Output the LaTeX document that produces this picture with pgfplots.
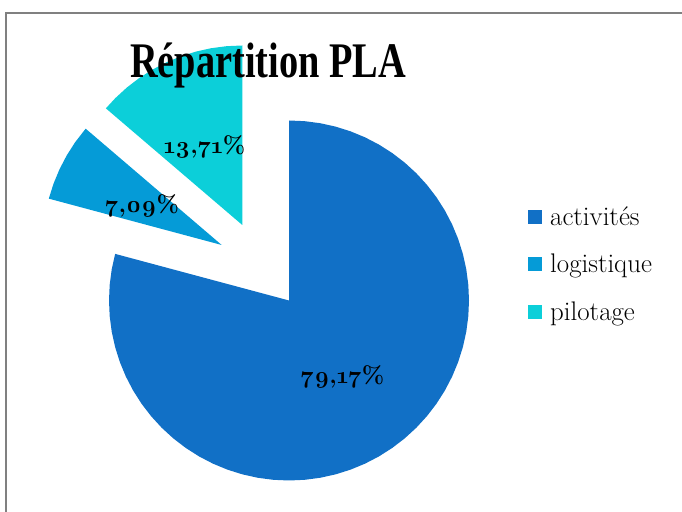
\documentclass[border=0pt]{standalone}
\usepackage{fontspec}
\setmainfont{Latin Modern Roman}
\newfontfamily\osf{Latin Modern Roman}[Numbers=OldStyle]
\newfontfamily\titlefont{Liberation Serif}
\usepackage{pgfplots}
\usepackage{pgfplotstable}
\pgfplotsset{compat=1.18}

\definecolor{activ}{HTML}{1170C6}
\definecolor{logi}{HTML}{059BD7}
\definecolor{pilo}{HTML}{0CCFD9}

% slice outlines: angle (deg) and relative radius; slices 79,17 / 7,09 / 13,71 %
\pgfplotstableread[row sep=\\]{
a r\\ 0 0\\ 90 1\\ 85 1\\ 80 1\\ 75 1\\ 70 1\\ 65 1\\ 60 1\\ 55 1\\ 50 1\\ 45 1\\
40 1\\ 35 1\\ 30 1\\ 25 1\\ 20 1\\ 15 1\\ 10 1\\ 5 1\\ 0 1\\ -5 1\\ -10 1\\
-15 1\\ -20 1\\ -25 1\\ -30 1\\ -35 1\\ -40 1\\ -45 1\\ -50 1\\ -55 1\\ -60 1\\
-65 1\\ -70 1\\ -75 1\\ -80 1\\ -85 1\\ -90 1\\ -95 1\\ -100 1\\ -105 1\\ -110 1\\
-115 1\\ -120 1\\ -125 1\\ -130 1\\ -135 1\\ -140 1\\ -145 1\\ -150 1\\ -155 1\\
-160 1\\ -165 1\\ -170 1\\ -175 1\\ -180 1\\ -185 1\\ -190 1\\ -195.01 1\\ 0 0\\
}\activites
\pgfplotstableread[row sep=\\]{
a r\\ 0 0\\ -195.01 1\\ -200 1\\ -205 1\\ -210 1\\ -215 1\\ -220.53 1\\ 0 0\\
}\logistique
\pgfplotstableread[row sep=\\]{
a r\\ 0 0\\ -220.53 1\\ -225 1\\ -230 1\\ -235 1\\ -240 1\\ -245 1\\ -250 1\\
-255 1\\ -260 1\\ -265 1\\ -270 1\\ 0 0\\
}\pilotage

\begin{document}
\begin{tikzpicture}
\useasboundingbox (0,0) rectangle (682bp,512bp);
\begin{axis}[
    hide axis,
    scale only axis,
    width=682bp, height=512bp,
    xmin=0, xmax=682, ymin=0, ymax=512,
    clip=false,
    legend style={draw=none, fill=none, inner sep=0pt,
        at={(528/682,307/512)}, anchor=north west,
        row sep=20.5bp,
        font=\fontsize{27}{32}\selectfont,
        nodes={inner sep=0pt, text height=20bp, text depth=7bp}},
    legend cell align=left,
    legend image code/.code={\fill[#1] (0bp,-5bp) rectangle (14bp,9bp);},
    /tikz/every odd column/.append style={column sep=8bp},
]
\addplot[fill=activ, draw=none] table[
    x expr={289+180*\thisrow{r}*cos(\thisrow{a})},
    y expr={211.5+180*\thisrow{r}*sin(\thisrow{a})}] {\activites};
\addlegendentry{activités}
\addplot[fill=logi, draw=none] table[
    x expr={221.7+179*\thisrow{r}*cos(\thisrow{a})},
    y expr={267+179*\thisrow{r}*sin(\thisrow{a})}] {\logistique};
\addlegendentry{logistique}
\addplot[fill=pilo, draw=none] table[
    x expr={242.3+179.5*\thisrow{r}*cos(\thisrow{a})},
    y expr={287+179.5*\thisrow{r}*sin(\thisrow{a})}] {\pilotage};
\addlegendentry{pilotage}

% frame
\draw[line width=1.2bp, gray] (axis cs:6,-20) -- (axis cs:6,499) -- (axis cs:700,499);

% title and data labels
\node[anchor=base, inner sep=0pt] at (axis cs:268,434)
    {\scalebox{0.77}[1]{\fontsize{50}{58}\selectfont\titlefont\bfseries Répartition PLA}};
\node[inner sep=0pt, font=\fontsize{24}{28}\selectfont\bfseries\osf] at (axis cs:204.5,365) {13,71\%};
\node[inner sep=0pt, font=\fontsize{24}{28}\selectfont\bfseries\osf] at (axis cs:142,306) {7,09\%};
\node[inner sep=0pt, font=\fontsize{24}{28}\selectfont\bfseries\osf] at (axis cs:342.5,135) {79,17\%};
\end{axis}
\end{tikzpicture}
\end{document}
